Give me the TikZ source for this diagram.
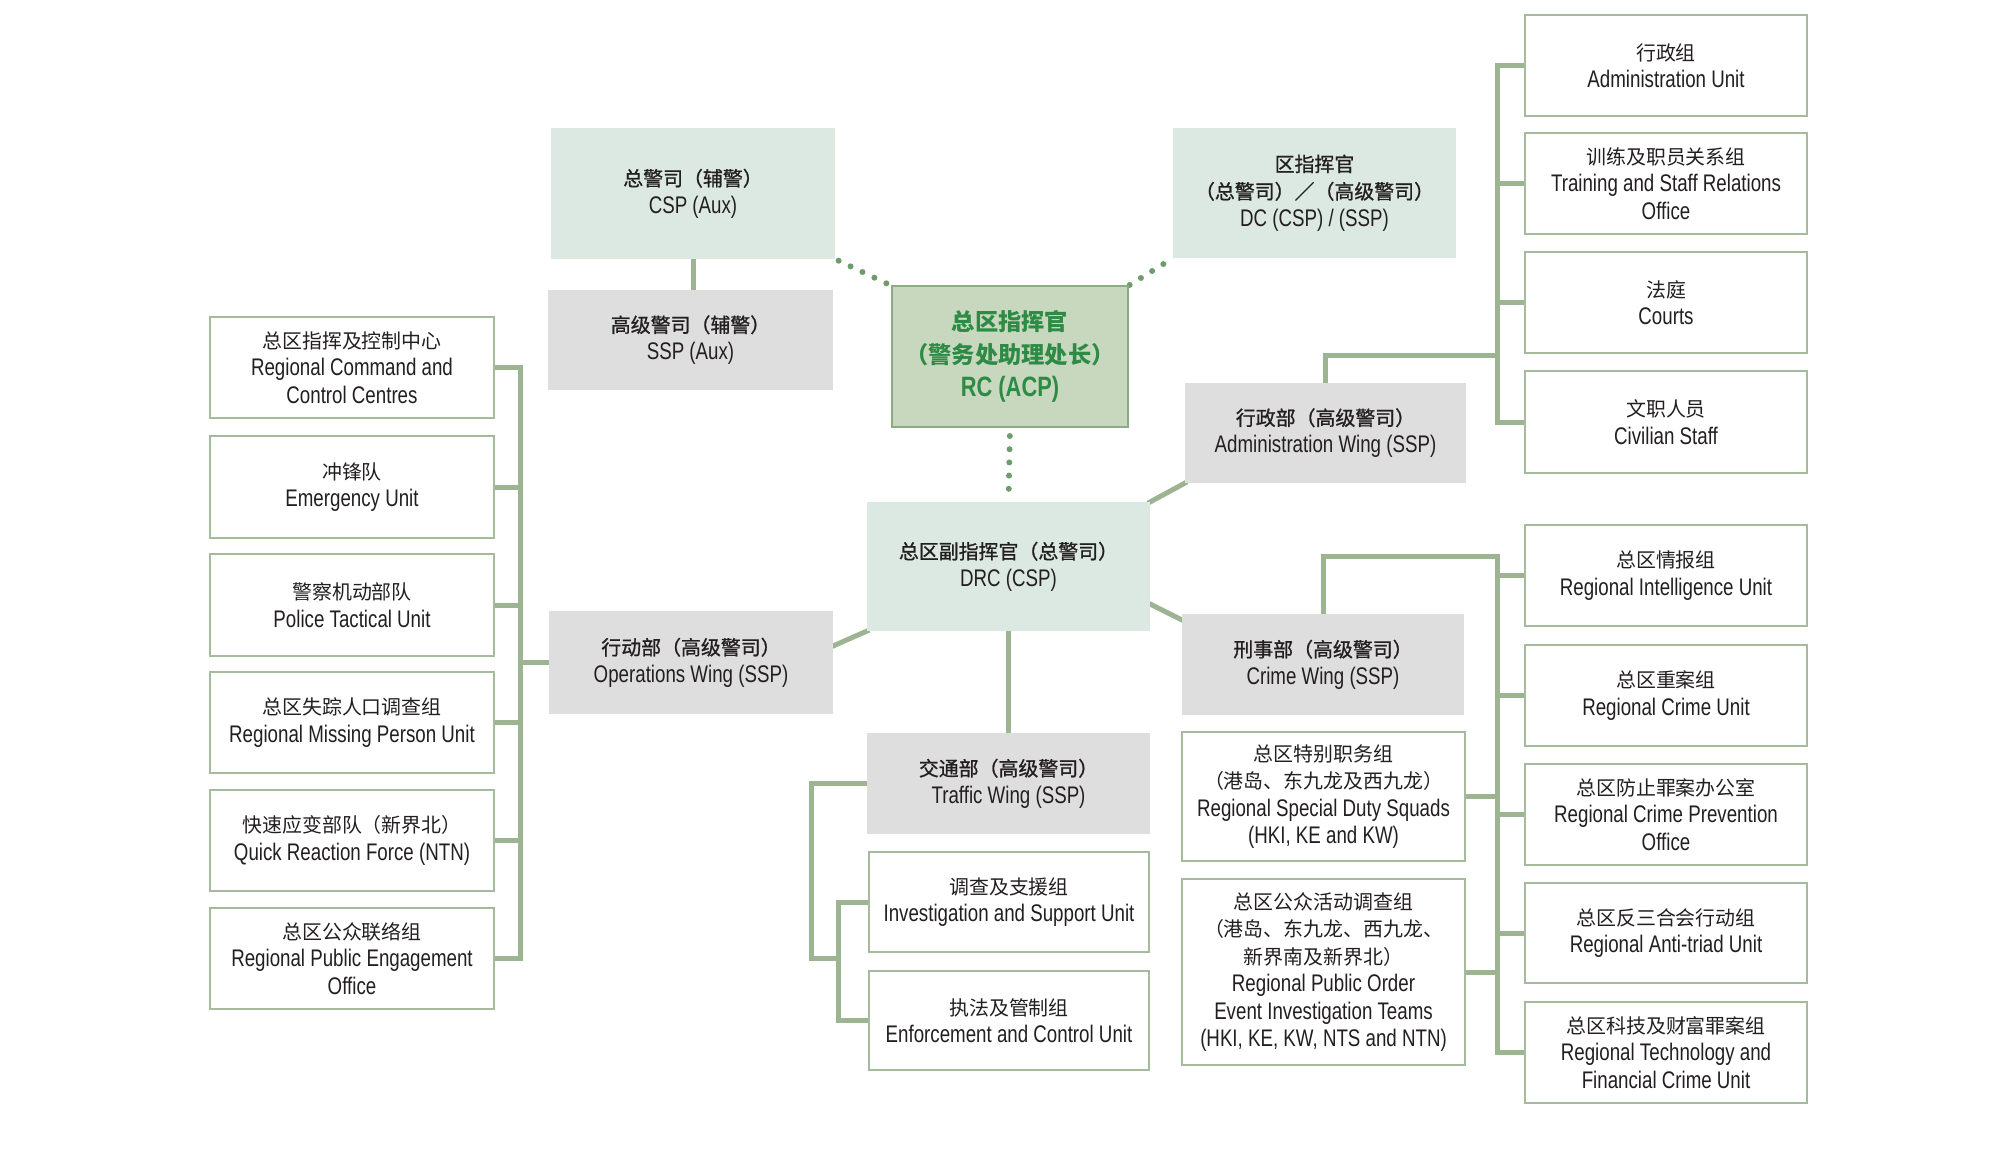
\documentclass[tikz,border=0pt]{standalone}
\usepackage{fontspec}
\setmainfont{Liberation Sans}[FakeStretch=0.78]
\newfontfamily\cjk{Noto Sans CJK SC}[Scale=0.83]
\newfontfamily\cjkm{Noto Sans CJK SC}[Scale=0.83, FakeBold=1]
\usetikzlibrary{calc}
\definecolor{grayfill}{HTML}{DEDEDE}
\definecolor{mintfill}{HTML}{DBE9E2}
\definecolor{rcfill}{HTML}{C8D8BF}
\definecolor{rcline}{HTML}{8BAB84}
\definecolor{rctext}{HTML}{2E8B45}
\definecolor{boxline}{HTML}{A6BB9D}
\definecolor{linegreen}{HTML}{9DB492}
\definecolor{dotgreen}{HTML}{6F9C6C}
\definecolor{ink}{HTML}{231F20}
\pgfdeclarelayer{bg}
\pgfsetlayers{bg,main}
\newcommand\mybox[7]{\node[#2, minimum width={0.5pt*(#5-#3)}, minimum height={0.5pt*(#6-#4)}] (#1) at ({(#3+#5)/2},{(#4+#6)/2}) {#7};}
\tikzset{
  basebox/.style={align=center, inner sep=0pt, outer sep=0pt, text=ink, font=\fontsize{12}{13.7}\selectfont},
  whitebox/.style={basebox, draw=boxline, line width=1.3pt, fill=white},
  graybox/.style={basebox, fill=grayfill},
  mintbox/.style={basebox, fill=mintfill},
  rcbox/.style={basebox, fill=rcfill, draw=rcline, line width=1.2pt, text=rctext, font=\bfseries\fontsize{14}{16.6}\selectfont},
  conn/.style={draw=linegreen, line width=2.5pt, line cap=rect, line join=miter},
  dotline/.style={draw=dotgreen, line width=3pt, line cap=round, dash pattern=on 0pt off 6.6pt},
}
\begin{document}
\begin{tikzpicture}[x=0.5pt, y=-0.5pt]
\useasboundingbox (0,0) rectangle (2000,1163);
% top centre
\mybox{CSPA}{mintbox}{551}{128}{835}{259}{{\cjkm 总警司（辅警）}\\CSP (Aux)}
\mybox{SSPA}{graybox}{548}{290}{833}{390}{{\cjkm 高级警司（辅警）}\\SSP (Aux)}
\mybox{RC}{rcbox}{892}{286}{1128}{427}{{\cjk 总区指挥官}\\{\cjk （警务处助理处长）}\\RC (ACP)}
\mybox{DC}{mintbox}{1173}{128}{1456}{258}{{\cjkm 区指挥官}\\{\cjkm （总警司）／（高级警司）}\\DC (CSP) / (SSP)}
\mybox{DRC}{mintbox}{867}{502}{1150}{631}{{\cjkm 总区副指挥官（总警司）}\\DRC (CSP)}
% wings
\mybox{AdminW}{graybox}{1185}{383}{1466}{483}{{\cjkm 行政部（高级警司）}\\Administration Wing (SSP)}
\mybox{OpsW}{graybox}{549}{611}{833}{714}{{\cjkm 行动部（高级警司）}\\Operations Wing (SSP)}
\mybox{TrafW}{graybox}{867}{733}{1150}{834}{{\cjkm 交通部（高级警司）}\\Traffic Wing (SSP)}
\mybox{CrimeW}{graybox}{1182}{614}{1464}{715}{{\cjkm 刑事部（高级警司）}\\Crime Wing (SSP)}
% admin units
\mybox{AU}{whitebox}{1525}{15}{1807}{116}{{\cjk 行政组}\\Administration Unit}
\mybox{TSR}{whitebox}{1525}{133}{1807}{234}{{\cjk 训练及职员关系组}\\Training and Staff Relations\\Office}
\mybox{CT}{whitebox}{1525}{252}{1807}{353}{{\cjk 法庭}\\Courts}
\mybox{CS}{whitebox}{1525}{371}{1807}{473}{{\cjk 文职人员}\\Civilian Staff}
% crime units
\mybox{RIU}{whitebox}{1525}{525}{1807}{626}{{\cjk 总区情报组}\\Regional Intelligence Unit}
\mybox{RCU}{whitebox}{1525}{645}{1807}{746}{{\cjk 总区重案组}\\Regional Crime Unit}
\mybox{RCPO}{whitebox}{1525}{764}{1807}{865}{{\cjk 总区防止罪案办公室}\\Regional Crime Prevention\\Office}
\mybox{RAT}{whitebox}{1525}{883}{1807}{983}{{\cjk 总区反三合会行动组}\\Regional Anti-triad Unit}
\mybox{RTF}{whitebox}{1525}{1002}{1807}{1103}{{\cjk 总区科技及财富罪案组}\\Regional Technology and\\Financial Crime Unit}
\mybox{SDS}{whitebox}{1182}{732}{1465}{861}{{\cjk 总区特别职务组}\\{\cjk （港岛、东九龙及西九龙）}\\Regional Special Duty Squads\\(HKI, KE and KW)}
\mybox{PO}{whitebox}{1182}{879}{1465}{1065}{{\cjk 总区公众活动调查组}\\{\cjk （港岛、东九龙、西九龙、}\\{\cjk 新界南及新界北）}\\Regional Public Order\\Event Investigation Teams\\(HKI, KE, KW, NTS and NTN)}
% traffic units
\mybox{ISU}{whitebox}{869}{852}{1149}{952}{{\cjk 调查及支援组}\\Investigation and Support Unit}
\mybox{ECU}{whitebox}{869}{971}{1149}{1070}{{\cjk 执法及管制组}\\Enforcement and Control Unit}
% operations units
\mybox{RCCC}{whitebox}{210}{317}{494}{418}{{\cjk 总区指挥及控制中心}\\Regional Command and\\Control Centres}
\mybox{EU}{whitebox}{210}{436}{494}{538}{{\cjk 冲锋队}\\Emergency Unit}
\mybox{PTU}{whitebox}{210}{554}{494}{656}{{\cjk 警察机动部队}\\Police Tactical Unit}
\mybox{RMPU}{whitebox}{210}{672}{494}{773}{{\cjk 总区失踪人口调查组}\\Regional Missing Person Unit}
\mybox{QRF}{whitebox}{210}{790}{494}{891}{{\cjk 快速应变部队（新界北）}\\Quick Reaction Force (NTN)}
\mybox{RPEO}{whitebox}{210}{908}{494}{1009}{{\cjk 总区公众联络组}\\Regional Public Engagement\\Office}
% spine coordinates
\coordinate (LS) at (520,0);
\coordinate (RS) at (1497,0);
\coordinate (TS1) at (811,958);
\coordinate (TS2) at (838,958);
\coordinate (AJ) at (1497,355);
\coordinate (CJ) at (1497,556);
\begin{pgfonlayer}{bg}
\draw[conn] (CSPA.south) -- (CSPA.south |- SSPA.north);
\draw[dotline, shorten <=2pt] (CSPA.south east) -- (RC.north west);
\draw[dotline, shorten <=1pt] (RC.north east) -- (DC.south west);
\draw[dotline, shorten <=4.5pt, shorten >=5pt] (RC.south) -- (DRC.north);
\draw[conn] (DRC.north east) -- (AdminW.south west);
\draw[conn] ([yshift=-18.75pt]DRC.east) -- ([yshift=-3pt]CrimeW.north west);
\draw[conn] (DRC.south west) -- ([yshift=-17.5pt]OpsW.north east);
\draw[conn] (DRC.south) -- (TrafW.north);
% operations
\draw[conn] (OpsW.west) -- (OpsW.west -| LS);
\draw[conn] (RCCC.east -| LS) -- (RPEO.east -| LS);
\foreach \n in {RCCC,EU,PTU,RMPU,QRF,RPEO} \draw[conn] (\n.east) -- (\n.east -| LS);
% traffic
\draw[conn] (TrafW.west) -| (TS1) -- (TS2);
\draw[conn] (ISU.west -| TS2) -- (ECU.west -| TS2);
\draw[conn] (ISU.west) -- (ISU.west -| TS2);
\draw[conn] (ECU.west) -- (ECU.west -| TS2);
% administration
\draw[conn] (AdminW.north) |- (AJ);
\draw[conn] (AU.west -| RS) -- (CS.west -| RS);
\foreach \n in {AU,TSR,CT,CS} \draw[conn] (\n.west) -- (\n.west -| RS);
% crime
\draw[conn] (CrimeW.north) |- (CJ) -- (RTF.west -| RS);
\foreach \n in {RIU,RCU,RCPO,RAT,RTF} \draw[conn] (\n.west) -- (\n.west -| RS);
\draw[conn] (SDS.east) -- (SDS.east -| RS);
\draw[conn] (PO.east) -- (PO.east -| RS);
\end{pgfonlayer}
\end{tikzpicture}
\end{document}
